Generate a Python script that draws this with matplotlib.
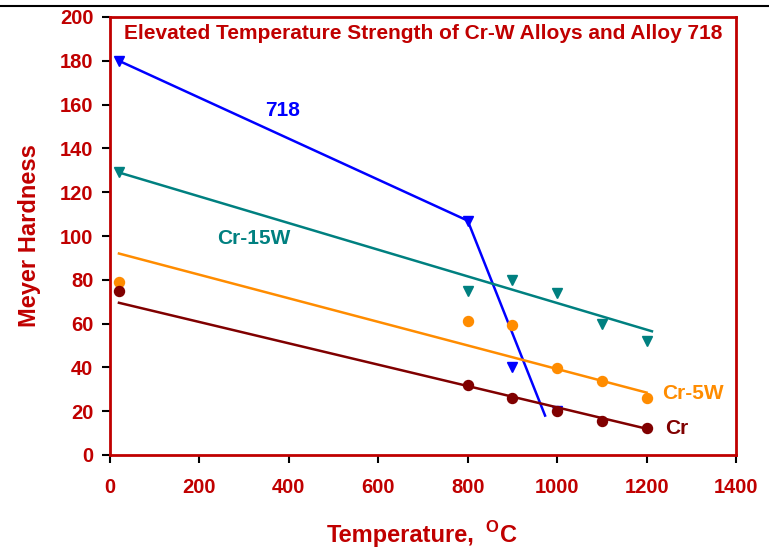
import matplotlib
matplotlib.use("Agg")
import matplotlib.pyplot as plt
from matplotlib.lines import Line2D

plt.rcParams['font.family'] = ['Liberation Sans', 'DejaVu Sans']
plt.rcParams['font.weight'] = 'bold'

RED = '#C00000'
BLUE = '#0000FF'
TEAL = '#008080'
ORANGE = '#FF8C00'
DARKRED = '#800000'

# Alloy 718
t718 = [20, 800, 900, 1000]
h718 = [180, 107, 40, 20]
t718_line = [20, 800, 973]
h718_line = [180, 107, 18]

# Cr-15W
t15 = [20, 800, 900, 1000, 1100, 1200]
h15 = [129, 75, 80, 74, 60, 52]
t15_fit = [20, 1212]
h15_fit = [129, 56.5]

# Cr-5W
t5 = [20, 800, 900, 1000, 1100, 1200]
h5 = [79, 61, 59.5, 39.5, 34, 26]
t5_fit = [20, 1200]
h5_fit = [92, 28.5]

# Cr
tcr = [20, 800, 900, 1000, 1100, 1200]
hcr = [75, 32, 26, 20, 15.5, 12.5]
tcr_fit = [20, 1200]
hcr_fit = [69.5, 12]

xticks = [0, 200, 400, 600, 800, 1000, 1200, 1400]
yticks = [0, 20, 40, 60, 80, 100, 120, 140, 160, 180, 200]

W, H = 769, 547
fig = plt.figure(figsize=(W/100, H/100), dpi=100)
ax = fig.add_axes([110/W, 1-455/H, 626/W, 438/H])

# top header line
fig.add_artist(Line2D([0, 1], [1-5.5/H, 1-5.5/H], color='black', lw=1.5, transform=fig.transFigure))

ax.plot(t718_line, h718_line, color=BLUE, lw=1.8)
ax.plot(t718, h718, linestyle='none', marker='v', color=BLUE, ms=7)

ax.plot(t15_fit, h15_fit, color=TEAL, lw=1.8)
ax.plot(t15, h15, linestyle='none', marker='v', color=TEAL, ms=7)

ax.plot(t5_fit, h5_fit, color=ORANGE, lw=1.8)
ax.plot(t5, h5, linestyle='none', marker='o', color=ORANGE, ms=7.2)

ax.plot(tcr_fit, hcr_fit, color=DARKRED, lw=1.8)
ax.plot(tcr, hcr, linestyle='none', marker='o', color=DARKRED, ms=7.2)

ax.set_xlim(0, 1400)
ax.set_ylim(0, 200)
ax.set_xticks(xticks)
ax.set_yticks(yticks)
ax.tick_params(direction='out', length=6, width=1.5, color='black',
               labelcolor=RED, labelsize=14.5)
ax.tick_params(axis='y', pad=6)
ax.tick_params(axis='x', pad=10.5)
for lab in ax.get_xticklabels() + ax.get_yticklabels():
    lab.set_fontweight('bold')
for s in ax.spines.values():
    s.set_color(RED)
    s.set_linewidth(2)

# axis labels
ax.set_ylabel('Meyer Hardness', color=RED, fontsize=17, fontweight='bold')
ax.yaxis.set_label_coords((41-110)/626, 0.501)

fig.text(327/W, 1-542/H, 'Temperature,', color=RED, fontsize=17, fontweight='bold',
         ha='left', va='baseline')
fig.text(485/W, 1-532/H, 'O', color=RED, fontsize=12, fontweight='bold',
         ha='left', va='baseline')
fig.text(517/W, 1-542/H, 'C', color=RED, fontsize=17, fontweight='bold',
         ha='right', va='baseline')

ax.text(0.5, 192.4, 'Elevated Temperature Strength of Cr-W Alloys and Alloy 718',
        transform=ax.get_yaxis_transform(), ha='center', va='center', color=RED,
        fontsize=15, fontweight='bold')

ax.text(385, 157.5, '718', color=BLUE, fontsize=15, fontweight='bold', ha='center', va='center')
ax.text(322, 99, 'Cr-15W', color=TEAL, fontsize=15, fontweight='bold', ha='center', va='center')
ax.text(1234, 28.3, 'Cr-5W', color=ORANGE, fontsize=15, fontweight='bold', ha='left', va='center')
ax.text(1241, 12.3, 'Cr', color=DARKRED, fontsize=15, fontweight='bold', ha='left', va='center')

fig.savefig('out.png', dpi=100)
